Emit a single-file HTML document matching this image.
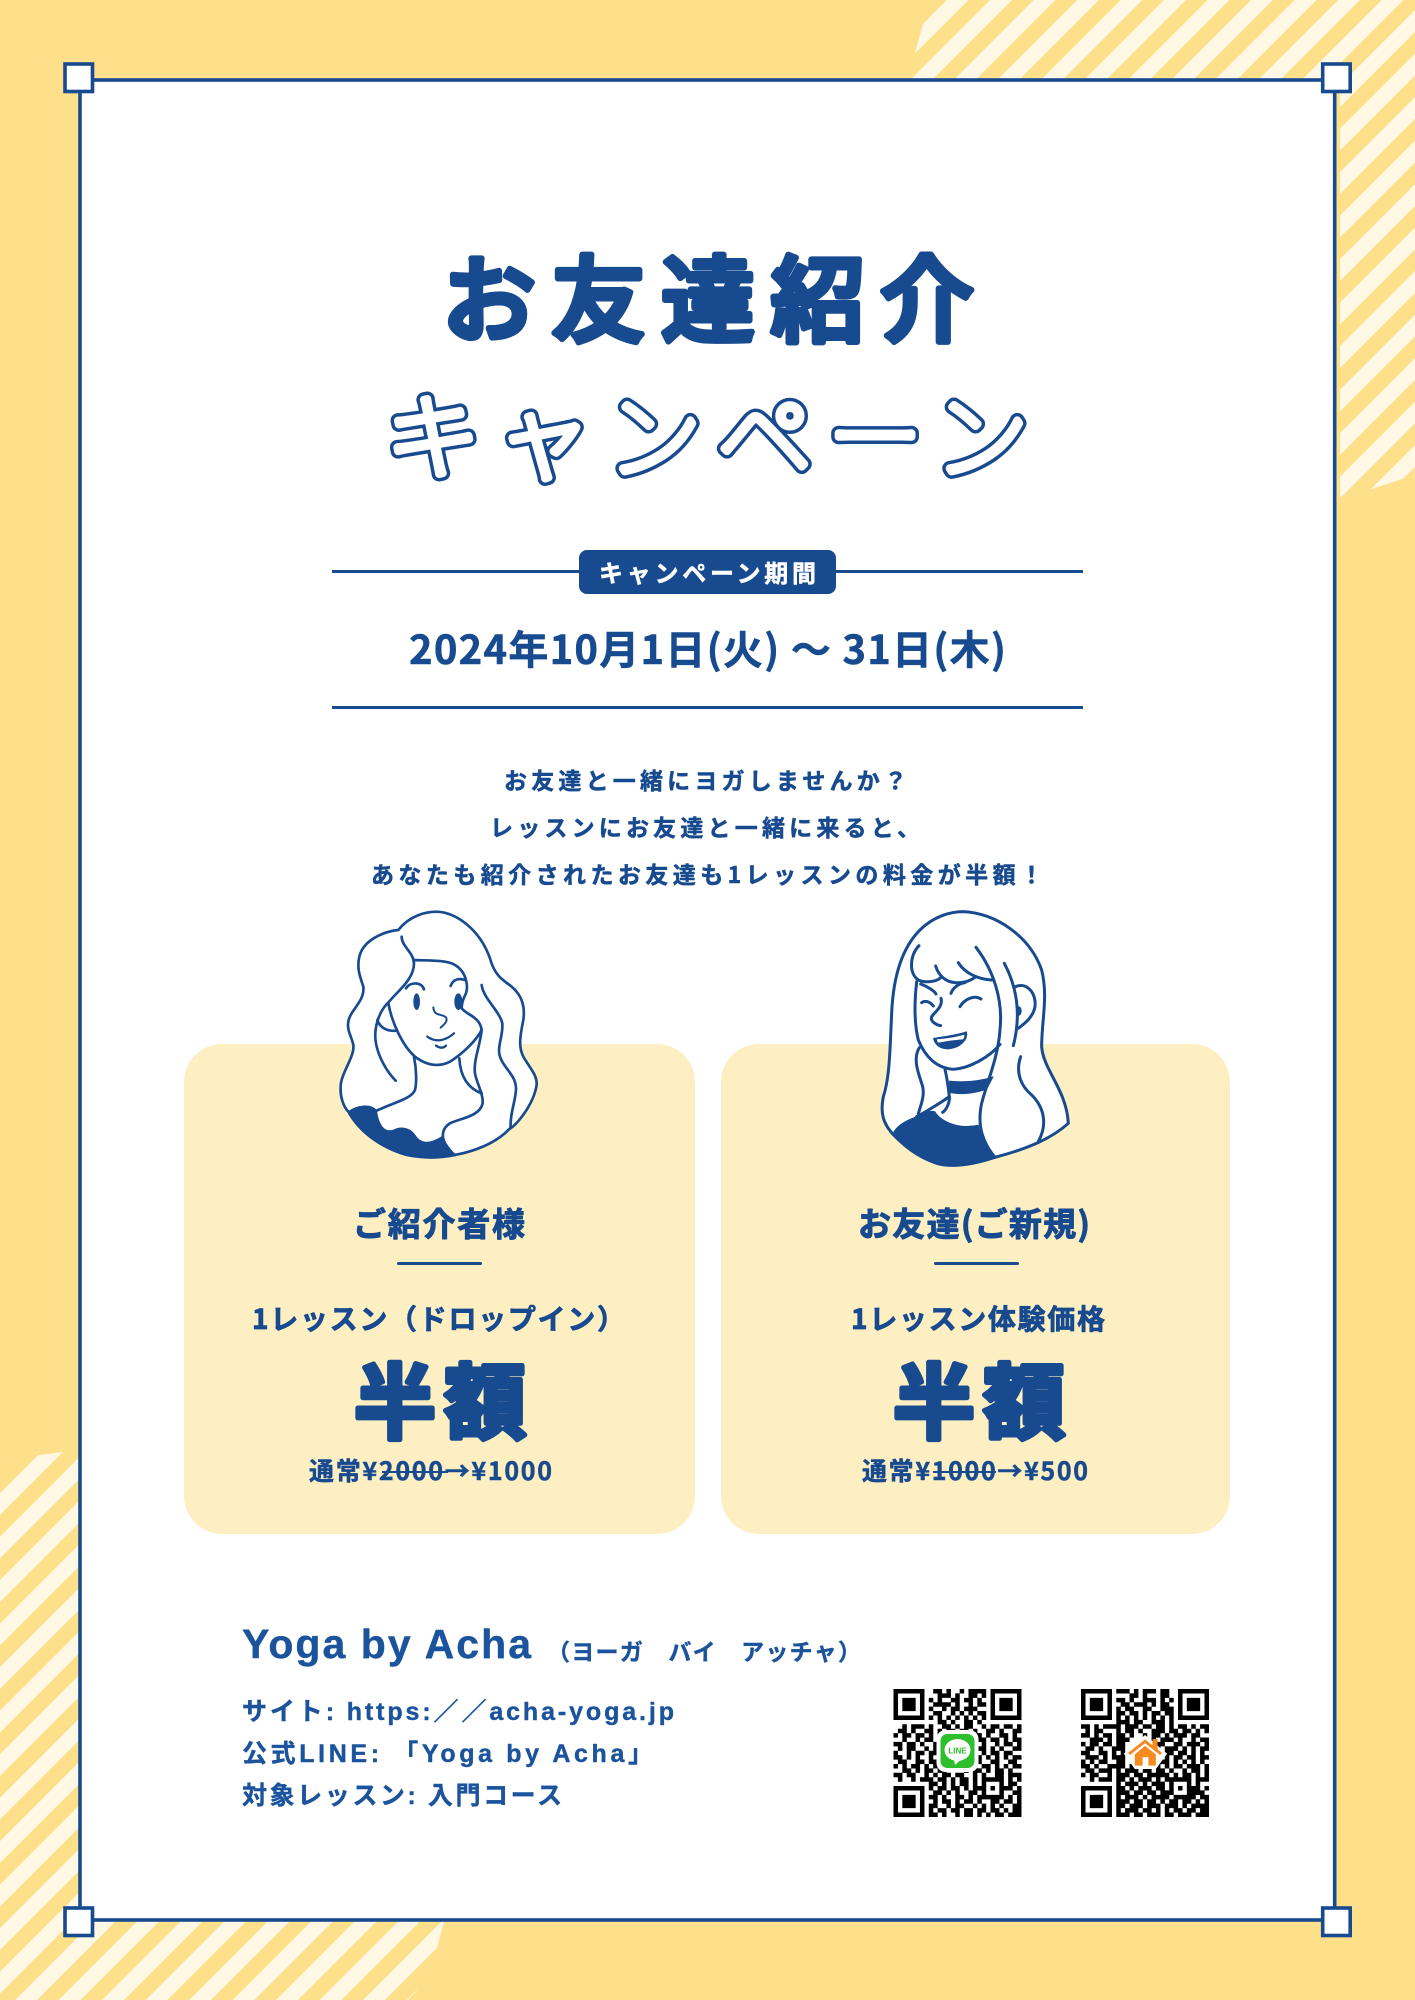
<!DOCTYPE html>
<html lang="ja">
<head>
<meta charset="utf-8">
<title>お友達紹介キャンペーン</title>
<style>
html,body{margin:0;padding:0;background:#fff;}
svg{display:block;}
text{font-family:"Liberation Sans","Noto Sans CJK JP",sans-serif;fill:#174A8F;font-weight:700;}
.cjk{font-family:"Noto Sans CJK JP","Liberation Sans",sans-serif;stroke:#174A8F;stroke-width:.5;stroke-linejoin:round;}
.foot{fill:#1B539C;stroke:#1B539C;stroke-width:.4;stroke-linejoin:round;}
.ln{fill:none;stroke:#174A8F;stroke-width:8;stroke-linecap:round;stroke-linejoin:round;}
.fl{fill:#174A8F;stroke:#174A8F;stroke-width:2;stroke-linejoin:round;}
</style>
</head>
<body>
<svg xmlns="http://www.w3.org/2000/svg" width="1415" height="2000" viewBox="0 0 1415 2000">
<defs>
<pattern id="stripeTR" patternUnits="userSpaceOnUse" x="669.4" y="0" width="30.76" height="30.76" patternTransform="rotate(45)"><rect width="15.38" height="30.76" fill="#FFF8E5"/></pattern>
<pattern id="stripeBL" patternUnits="userSpaceOnUse" x="1086.6" y="0" width="30.76" height="30.76" patternTransform="rotate(45)"><rect width="15.38" height="30.76" fill="#FFF8E5"/></pattern>
</defs>

<rect width="1415" height="2000" fill="#FFE08A"/>
<polygon points="946.7,0 923,24 915,53 912,82 1340,82 1340,497 1345,495 1372,489 1405,478 1415,468 1415,0" fill="url(#stripeTR)"/>
<polygon points="0,1472 12,1461 38,1455 63,1452 82,1445 82,1918 445,1918 437,1948 418,1989 408,2000 0,2000" fill="url(#stripeBL)"/>

<rect x="80" y="80" width="1254.7" height="1840" fill="#fff" stroke="#174A8F" stroke-width="3.6"/>
<rect x="65" y="64" width="27.5" height="27.5" fill="#fff" stroke="#174A8F" stroke-width="3.6"/>
<rect x="1322.7" y="64" width="27.5" height="27.5" fill="#fff" stroke="#174A8F" stroke-width="3.6"/>
<rect x="65" y="1908" width="27.5" height="27.5" fill="#fff" stroke="#174A8F" stroke-width="3.6"/>
<rect x="1322.7" y="1908" width="27.5" height="27.5" fill="#fff" stroke="#174A8F" stroke-width="3.6"/>

<!-- Title -->
<text class="cjk" x="442" y="334" font-size="94" textLength="532" style="font-weight:500;stroke-width:6">お友達紹介</text>
<text class="cjk" x="386" y="471" font-size="94" textLength="642" style="font-weight:100;fill:#174A8F;stroke-width:15;stroke-linecap:round">キャンペーン</text>
<text class="cjk" x="386" y="471" font-size="94" textLength="642" style="font-weight:100;fill:#fff;stroke:#fff;stroke-width:8;stroke-linecap:round">キャンペーン</text>

<!-- Period -->
<rect x="332" y="570" width="751" height="3" fill="#174A8F"/>
<rect x="579" y="550" width="257" height="44" rx="8" fill="#174A8F"/>
<text class="cjk" x="599" y="582" font-size="24" textLength="217" style="fill:#fff;stroke:#fff">キャンペーン期間</text>
<text x="409" y="664" font-size="40" textLength="597" class="cjk">2024年10月1日(火) ～ 31日(木)</text>
<rect x="332" y="706" width="751" height="3" fill="#174A8F"/>

<!-- Intro -->
<text class="cjk" x="504" y="789" font-size="23" textLength="403">お友達と一緒にヨガしませんか？</text>
<text class="cjk" x="490" y="836" font-size="23" textLength="430">レッスンにお友達と一緒に来ると、</text>
<text class="cjk" x="371" y="883" font-size="23" textLength="672">あなたも紹介されたお友達も1レッスンの料金が半額！</text>

<!-- Cards -->
<rect x="184" y="1044" width="511" height="490" rx="38" fill="#FEEFC3"/>
<rect x="721" y="1044" width="509" height="490" rx="38" fill="#FEEFC3"/>

<!-- Woman 1 -->
<g transform="translate(300 880) scale(.3333)">
<path d="M295 150C330 105 380 95 410 95C470 97 540 150 570 235C585 290 610 300 635 320C670 350 675 385 670 420C660 470 655 500 670 530C690 565 712 585 710 615C700 680 640 745 630 745C590 790 520 815 465 825C420 835 370 835 320 825C250 805 180 760 145 695C130 680 120 650 122 620C122 580 165 530 160 495C155 470 140 450 145 425C150 390 195 365 190 320C180 290 170 265 178 230C190 180 250 155 295 150Z" fill="#fff" stroke="#174A8F" stroke-width="8" stroke-linejoin="round"/>
<path class="fl" d="M145 695C170 675 215 670 230 692C235 730 250 760 280 750C310 735 335 750 345 765C360 790 385 795 425 770C430 790 445 810 465 825C420 835 370 835 320 825C250 805 180 760 145 695Z"/>
<path class="ln" d="M305 170C305 200 340 215 342 250C342 300 290 335 265 368C235 395 220 450 228 490C235 530 260 575 287 602"/>
<path class="ln" d="M232 420C240 445 265 455 290 452"/>
<path class="ln" d="M342 240C390 242 440 240 465 255C500 275 505 320 498 340C490 355 485 370 485 385C500 405 540 410 545 450"/>
<path class="ln" d="M265 368C275 430 310 500 345 530C385 560 420 560 450 545C490 520 530 480 545 450"/>
<path class="ln" d="M342 530C350 570 350 610 345 630C335 655 290 665 230 692"/>
<path class="ln" d="M478 535C480 570 490 620 545 640"/>
<path class="ln" d="M545 450C540 500 520 540 525 580C530 610 550 640 548 670C540 710 480 715 450 730C425 745 425 770 435 790C445 805 455 820 465 825"/>
<path class="ln" d="M545 315C550 355 600 395 607 430C610 470 590 500 600 530C610 565 650 585 648 630C645 670 630 700 632 745"/>
<path class="ln" d="M318 325C330 305 365 305 372 328"/>
<path class="ln" d="M452 318C460 295 480 295 495 300"/>
<ellipse cx="350" cy="365" rx="10" ry="25" fill="#174A8F"/>
<ellipse cx="475" cy="365" rx="12" ry="25" fill="#174A8F"/>
<path class="ln" style="stroke-width:6" d="M400 382C402 410 425 400 438 412C445 425 430 435 422 443"/>
<path class="ln" style="stroke-width:7" d="M382 470C410 490 440 480 462 460"/>
<path class="ln" style="stroke-width:7" d="M408 497C420 505 430 505 438 497"/>
</g>

<!-- Woman 2 -->
<g transform="translate(850 880) scale(.3333)">
<path d="M340 95C440 100 540 170 575 270C595 350 575 420 575 500C580 570 650 630 655 730C600 780 520 810 435 832C380 850 310 865 260 850C200 830 160 795 128 762C100 730 90 700 100 650C120 590 120 500 125 400C130 280 160 200 210 150C250 110 300 95 340 95Z" fill="#fff" stroke="#174A8F" stroke-width="9" stroke-linejoin="round"/>
<path class="fl" d="M128 762C140 735 170 720 200 710C220 700 240 690 255 695C270 720 320 750 385 735C390 770 410 810 435 832C380 850 310 865 260 850C200 830 160 795 128 762Z"/>
<g>
<path class="ln" style="stroke-width:9" d="M207 197C180 225 175 280 205 300C225 310 260 305 272 293"/>
<path class="ln" style="stroke-width:9" d="M257 258C265 285 285 305 315 308C345 310 365 300 378 290"/>
<path class="ln" style="stroke-width:9" d="M325 248C345 280 385 298 425 300"/>
<path class="ln" style="stroke-width:9" d="M378 202C430 270 460 360 450 450C445 530 410 610 395 670C380 740 400 790 435 832"/>
<path class="ln" style="stroke-width:9" d="M463 250C500 320 515 400 490 497"/>
<path class="ln" style="stroke-width:9" d="M497 320C530 305 560 340 555 380C550 410 525 430 505 445"/>
<path class="ln" style="stroke-width:9" d="M200 305C195 350 190 420 205 480C225 530 260 565 310 568C360 565 420 530 450 493"/>
<path class="ln" style="stroke-width:9" d="M212 312C235 320 255 335 258 342"/>
<path class="ln" style="stroke-width:9" d="M303 340C310 320 330 310 345 308"/>
<path class="ln" style="stroke-width:9" d="M215 368C225 360 240 365 250 378"/>
<path class="ln" style="stroke-width:9" d="M330 380C345 355 375 345 393 357"/>
<path class="ln" style="stroke-width:9" d="M273 355C280 380 255 395 245 410C240 425 260 435 272 437"/>
<path class="ln" style="stroke-width:9" d="M285 568C290 590 295 620 298 650C300 665 290 690 278 697"/>
<path class="ln" style="stroke-width:9" d="M200 710C220 700 270 670 298 650"/>
<path class="ln" style="stroke-width:9" d="M208 503C185 540 210 590 218 620C225 650 210 680 205 702"/>
<path class="ln" style="stroke-width:9" d="M512 530C495 580 515 620 545 645C580 680 595 730 565 785"/>
</g>
<ellipse cx="507" cy="393" rx="8" ry="14" fill="#174A8F"/>
<path class="fl" d="M250 475C280 470 320 465 350 455C355 480 330 505 295 507C270 507 255 495 250 475Z"/>
<path d="M260 478C290 476 320 471 343 464C344 470 342 474 339 478C310 480 285 484 264 488Z" fill="#fff"/>
<path class="fl" d="M298 603C340 607 385 605 430 590L410 628C375 640 335 645 300 638Z"/>
</g>

<!-- Card 1 text -->
<text class="cjk" x="353" y="1236" font-size="33" textLength="172" style="stroke-width:1">ご紹介者様</text>
<rect x="397" y="1262" width="85" height="3" rx="1.5" fill="#174A8F"/>
<text class="cjk" x="252" y="1329" font-size="28" textLength="373" style="stroke-width:.8">1レッスン（ドロップイン）</text>
<text class="cjk" x="354" y="1432" font-size="82" textLength="172" style="stroke-width:5">半額</text>
<text class="cjk" x="309" y="1480" font-size="25" textLength="243">通常¥2000→¥1000</text>
<rect x="382" y="1471" width="66" height="2" fill="#174A8F"/>

<!-- Card 2 text -->
<text class="cjk" x="858" y="1236" font-size="33" textLength="232" style="stroke-width:1">お友達(ご新規)</text>
<rect x="934" y="1262" width="85" height="3" rx="1.5" fill="#174A8F"/>
<text class="cjk" x="851" y="1329" font-size="28" textLength="254" style="stroke-width:.8">1レッスン体験価格</text>
<text class="cjk" x="893" y="1432" font-size="82" textLength="172" style="stroke-width:5">半額</text>
<text class="cjk" x="862" y="1480" font-size="25" textLength="226">通常¥1000→¥500</text>
<rect x="933" y="1471" width="63" height="2" fill="#174A8F"/>

<!-- Footer -->
<text class="foot" x="242" y="1658" font-size="41" textLength="289">Yoga by Acha</text>
<text class="cjk foot" x="547" y="1660" font-size="23" textLength="314">（ヨーガ　バイ　アッチャ）</text>
<text class="foot" x="242" y="1720" font-size="25" textLength="432">サイト: https:／／acha-yoga.jp</text>
<text class="foot" x="242" y="1762" font-size="25" textLength="411">公式LINE: 「Yoga by Acha」</text>
<text class="foot" x="242" y="1804" font-size="25" textLength="320">対象レッスン: 入門コース</text>

<!-- QR codes -->
<g>
<path id="qrLine" fill="#000" d=""/>
<rect x="936.5" y="1730" width="42" height="42" rx="9" fill="#fff"/>
<rect x="940.5" y="1734" width="34" height="34" rx="7" fill="#2DBE2C"/>
<ellipse cx="957.5" cy="1750" rx="13" ry="11" fill="#fff"/>
<polygon points="954,1759.5 961,1759.5 955,1765" fill="#fff"/>
<text x="957.5" y="1753.5" font-size="8" text-anchor="middle" style="fill:#2DBE2C;stroke:none">LINE</text>
</g>
<g>
<path id="qrSite" fill="#000" d=""/>
<g transform="translate(1077 1684) scale(.34)">
<polygon points="138,205 200,150 265,205 232,250 170,250" fill="#fff"/>
<polygon points="150,203 200,163 222,180 222,162 237,162 237,192 250,203 244,209 200,174 156,209" fill="#F58A1F"/>
<path d="M170 207L200 182L232 207V240H210V215H193V240H170Z" fill="#F58A1F"/>
</g>
</g>
</svg>
<script>
var qrLineRows = [
"#######..##.#..#.####.#######",
"#.....#...###.#..##.#.#.....#",
"#.###.#.#.#..##.##.#..#.###.#",
"#.###.#..####.#..#.##.#.###.#",
"#.###.#.#..#.##.###...#.###.#",
"#.....#..##..#.#.#.##.#.....#",
"#######.#.#.#.#.#.#.#.#######",
"..........##.#..##.#.........",
"..#.###.#..##.#.##..#.##.##.#",
".##.#..##.#.##.##.#..##.#..##",
"#.##.##.#.##...##.##.#..##.#.",
"..#..#.##.#.....#..##.##.#.##",
"##.##.#..##......##.#..#.##.#",
".#.##..#.#.......#.##.#.#..##",
"#..#.##.##........#.#.##.##..",
"##.#.#..#.........##.#.#.#.##",
".##..##.##.......#.#..##..##.",
"#.#.##.#.#.......##.##.#.#.##",
"..##.#.##.##....#.##.#.##.#..",
"##.##..#.#.##.##..#.#..##.###",
".#..#.###.##.#.##.#.#####.#.#",
"........##.#.#.##.#.#...#.##.",
"#######.#.##.##.#.###.#.###.#",
"#.....#..##.#.#..##.#...#..##",
"#.###.#.##.#..##.#.######.#.#",
"#.###.#..#.##.#.##.#..##.##.#",
"#.###.#.##..#.##..#.#.#.#..##",
"#.....#.#.##.##.##.##.##.#.##",
"#######.##.#..#.##.#.#.##.###"
];
var qrSiteRows = [
"#######.###.#.###.##..#######",
"#.....#....##.#...##..#.....#",
"#.###.#.##.#..###.#.#.#.###.#",
"#.###.#..##.###.#.##..#.###.#",
"#.###.#.#.##..##..###.#.###.#",
"#.....#.##.##.#.##.##.#.....#",
"#######.#.#.#.#.#.#.#.#######",
"........###.##..###.#........",
"##.#.####.###.##.##.#.##.#.##",
".#.##...#.##.#..###.##.##.#.#",
"##.#.##.##.#..#.##.#.###.##..",
"..###.#.###.....#.###.#..#.##",
"#.##.##.##.......##..##.###.#",
".##.#..###.......#.###.#.#.##",
"##..##.#.#.........##.##.#.#.",
".###.#.###.......#.#.##.##.##",
"#.#.##..##.......###.#.#.#.#.",
"##.#..####.##...##.#.##.###.#",
".##.###.#.###.##.##.#..#.##.#",
"#.##..#.###.##.#####.#.##.#.#",
"..#.###.##.#.###.#.######.###",
"........#.###.#.###.#...#.#..",
"#######.##.#.###.##.#.#.###.#",
"#.....#.###.##.##.###...####.",
"#.###.#.#.###.#.####.#####.##",
"#.###.#.###.##.##.#.##.##.#.#",
"#.###.#.##.###.###.###.#.####",
"#.....#.#.###.##.#.#.##.##.##",
"#######.###.##.###.##.###.###"
];
function qrPath(rows, left, top, cell) {
  var d = "";
  rows.forEach(function (row, r) {
    row.slice(0, 29).split("").forEach(function (c, i) {
      if (c === "#") {
        d += "M" + (left + i * cell).toFixed(2) + " " + (top + r * cell).toFixed(2) + "h" + (cell + 0.1) + "v" + (cell + 0.1) + "h-" + (cell + 0.1) + "z";
      }
    });
  });
  return d;
}
document.getElementById("qrLine").setAttribute("d", qrPath(qrLineRows, 893.5, 1689, 4.41));
document.getElementById("qrSite").setAttribute("d", qrPath(qrSiteRows, 1081, 1689, 4.41));
</script>
</body>
</html>
